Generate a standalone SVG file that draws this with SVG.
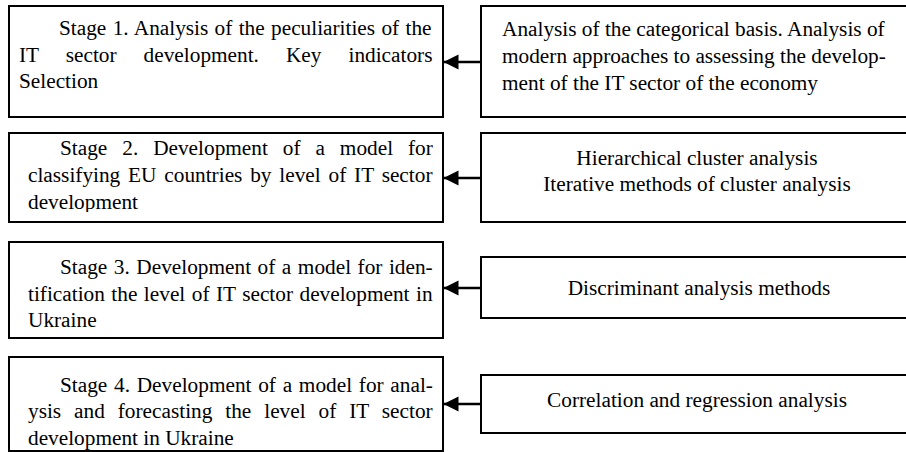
<svg xmlns="http://www.w3.org/2000/svg" width="906" height="452" viewBox="0 0 906 452">
<style>
.box{fill:#fff;stroke:#000;stroke-width:2}
text{font-family:"Liberation Serif","Times New Roman",serif;font-size:21.3px;fill:#000}
.c{text-anchor:middle}
.conn{stroke:#000;stroke-width:2.5;fill:none}
</style>
<defs>
<marker id="ah" markerUnits="userSpaceOnUse" markerWidth="16" markerHeight="16" refX="15" refY="8" orient="auto">
<path d="M0,0.5 L15,8 L0,15.5 Z" fill="#000"/>
</marker>
<clipPath id="clip2"><rect x="9" y="133" width="434" height="79"/></clipPath>
</defs>
<rect width="906" height="452" fill="#fff"/>
<g id="stage1">
<rect class="box" x="9" y="6" width="434" height="111"/>
<text x="59" y="35" word-spacing="1">Stage 1. Analysis of the peculiarities of the</text>
<text x="19" y="62" word-spacing="21.7">IT sector development. Key indicators</text>
<text x="19" y="88">Selection</text>
</g>
<g id="method1">
<rect class="box" x="481" y="6" width="432" height="111"/>
<text x="502" y="36">Analysis of the categorical basis. Analysis of</text>
<text x="502" y="63">modern approaches to assessing the develop-</text>
<text x="502" y="90">ment of the IT sector of the economy</text>
</g>
<g id="stage2">
<rect class="box" x="9" y="133" width="434" height="89"/>
<g clip-path="url(#clip2)">
<text x="60" y="155" word-spacing="9.6">Stage 2. Development of a model for</text>
<text x="28" y="182" word-spacing="2.5">classifying EU countries by level of IT sector</text>
<text x="28" y="209">development</text>
</g>
</g>
<g id="method2">
<rect class="box" x="481" y="133" width="432" height="89"/>
<text class="c" x="697" y="165">Hierarchical cluster analysis</text>
<text class="c" x="697" y="191">Iterative methods of cluster analysis</text>
</g>
<g id="stage3">
<rect class="box" x="9" y="242" width="434" height="96"/>
<text x="60" y="274" word-spacing="1.2">Stage 3. Development of a model for iden-</text>
<text x="28" y="301" word-spacing="1.16">tification the level of IT sector development in</text>
<text x="28" y="327">Ukraine</text>
</g>
<g id="method3">
<rect class="box" x="481" y="257" width="432" height="61"/>
<text class="c" x="699" y="295">Discriminant analysis methods</text>
</g>
<g id="stage4">
<rect class="box" x="9" y="357" width="434" height="94"/>
<text x="60" y="392" word-spacing="1.4">Stage 4. Development of a model for anal-</text>
<text x="28" y="418" word-spacing="7.6">ysis and forecasting the level of IT sector</text>
<text x="28" y="445">development in Ukraine</text>
</g>
<g id="method4">
<rect class="box" x="481" y="375" width="432" height="58"/>
<text class="c" x="697" y="407">Correlation and regression analysis</text>
</g>
<g id="connectors">
<line class="conn" x1="481" y1="62" x2="443.5" y2="62" marker-end="url(#ah)"/>
<line class="conn" x1="481" y1="178" x2="443.5" y2="178" marker-end="url(#ah)"/>
<line class="conn" x1="481" y1="288" x2="443.5" y2="288" marker-end="url(#ah)"/>
<line class="conn" x1="481" y1="404" x2="443.5" y2="404" marker-end="url(#ah)"/>
</g>
</svg>
